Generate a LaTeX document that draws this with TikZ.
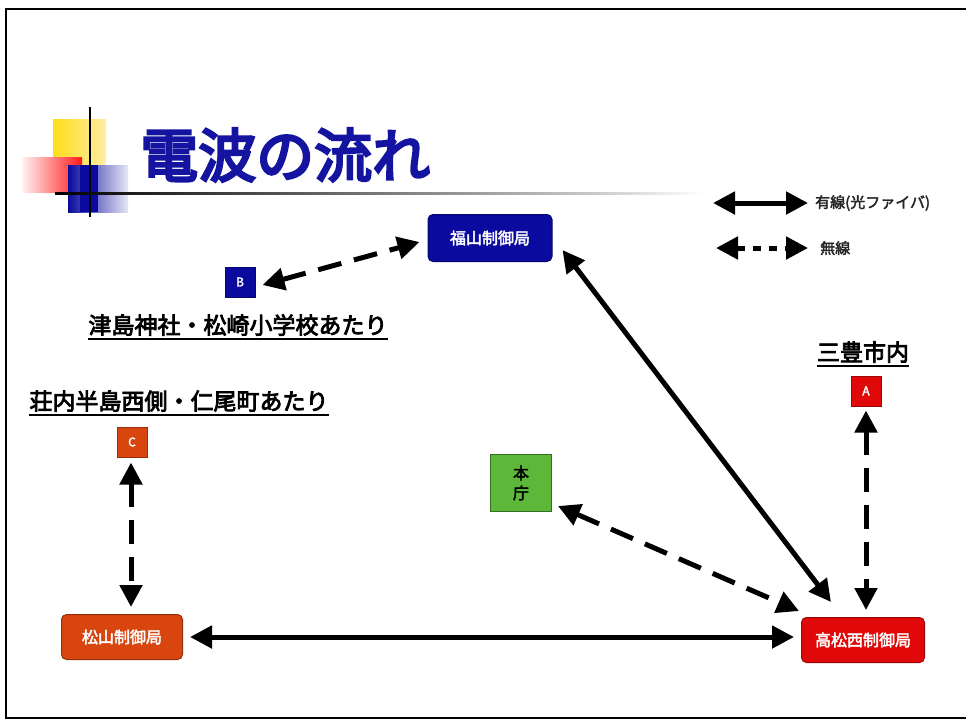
\documentclass[tikz,border=0pt]{standalone}
\usepackage{fontspec}
\setmainfont{Noto Sans CJK JP}
\newfontfamily\jpb{Noto Sans CJK JP}[FakeBold=2.5]
\newfontfamily\jpbb{Noto Sans CJK JP}[FakeBold=3.5]
\newfontfamily\titlefont{Noto Sans CJK JP}[FakeBold=4.5]
\usetikzlibrary{arrows.meta,calc,shadings}
\definecolor{titleblue}{HTML}{1414A0}
\definecolor{boxblue}{HTML}{0A0A9E}
\definecolor{boxorange}{HTML}{D8450F}
\definecolor{boxred}{HTML}{E00808}
\definecolor{boxgreen}{HTML}{5DB83A}
\tikzset{
  station/.style={rounded corners=5pt, draw=#1!70!black, line width=1pt, fill=#1,
    text=white, font=\jpb\fontsize{16}{16}\selectfont, inner sep=0pt},
  site/.style={draw=#1!70!black, line width=1pt, fill=#1, text=white,
    font=\jpb\fontsize{12}{12}\selectfont, minimum size=30pt, inner sep=0pt},
  place/.style={font=\jpbb\fontsize{23}{23}\selectfont, inner xsep=0pt, inner ysep=3pt},
  legtext/.style={font=\jpb\fontsize{15}{15}\selectfont, anchor=west, inner sep=0pt, text=black!85},
  wire/.style={line width=5pt, {Triangle[length=22pt,width=22pt]}-{Triangle[length=22pt,width=22pt]}},
  radio/.style={wire, dash pattern=on 24pt off 13pt},
  legradio/.style={wire, dash pattern=on 8pt off 8pt},
}
\begin{document}
\begin{tikzpicture}[x=1pt,y=-1pt]
\useasboundingbox (0,0) rectangle (966,724);
\fill[white] (0,0) rectangle (966,724);
% frame
\draw[line width=2pt] (967,9) -- (6,9) -- (6,718) -- (967,718);
% title decoration
\fill[left color=yellow!70!orange!90, right color=yellow!60!orange!35] (53,119) rectangle (106,165);
\fill[left color=red!5, right color=red!90] (22,157) rectangle (82,192);
\fill[left color=boxblue, right color=boxblue!10] (68,165) rectangle (128,212);
\fill[boxblue] (80,165) rectangle (98,212);
\draw[line width=2pt] (90,107) -- (90,217);
\shade[left color=black, right color=black!20] (55,192) rectangle (600,194.5);
\shade[left color=black!20, right color=white] (600,192) rectangle (705,194.5);
\node[anchor=west, text=titleblue, font=\titlefont\fontsize{58}{58}\selectfont, inner sep=0pt] (title) at (140,155) {電波の流れ};
% legend
\coordinate (lw1) at (713,203);
\coordinate (lw2) at (808,203);
\coordinate (lr1) at (716,248);
\coordinate (lr2) at (808,248);
\draw[wire] (lw1) -- (lw2);
\draw[legradio] (lr1) -- (lr2);
\node[legtext] (legw) at (815,203) {有線(光ファイバ)};
\node[legtext] (legr) at (820,248) {無線};
% stations
\node[station=boxblue, minimum width=124pt, minimum height=47pt] (fuku) at (490,238) {福山制御局};
\node[station=boxorange, minimum width=121pt, minimum height=45pt] (matsu) at (122,637) {松山制御局};
\node[station=boxred, minimum width=123pt, minimum height=45pt] (taka) at (863,640) {高松西制御局};
\node[draw=boxgreen!60!black, line width=1pt, fill=boxgreen, minimum width=61pt, minimum height=57pt,
  inner sep=0pt, align=center, font=\jpb\fontsize{16}{20}\selectfont] (honcho) at (521,483) {本\\庁};
% sites
\node[site=boxblue] (B) at (240,282) {B};
\node[site=boxorange] (C) at (132,442) {C};
\node[site=boxred] (A) at (866,391) {A};
% place labels
\node[place] (lb) at (238,325) {津島神社・松崎小学校あたり};
\draw[line width=1.3pt] (lb.south west) -- (lb.south east);
\node[place] (lc) at (179,401) {荘内半島西側・仁尾町あたり};
\draw[line width=1.3pt] (lc.south west) -- (lc.south east);
\node[place] (la) at (863,352) {三豊市内};
\draw[line width=1.3pt] (la.south west) -- (la.south east);
% connections
\draw[radio] ($(B.east)+(7,3)$) -- ($(fuku.west)+(-8,4)$);
\draw[wire] ($(fuku.east)+(10,12)$) -- ($(taka.north west)+(30,-15)$);
\draw[radio] ($(honcho.south east)+(6,-6)$) -- ($(taka.north west)+(-2,-6)$);
\draw[radio] ($(A.south)+(0,4)$) -- ($(A.south |- taka.north)+(0,-7)$);
\draw[radio] ($(C.south)+(-1,5)$) -- ($(C.south |- matsu.north)+(-1,-7)$);
\draw[wire] ($(matsu.east)+(7,0)$) -- ($(matsu.east -| taka.west)+(-7,0)$);
\end{tikzpicture}
\end{document}
